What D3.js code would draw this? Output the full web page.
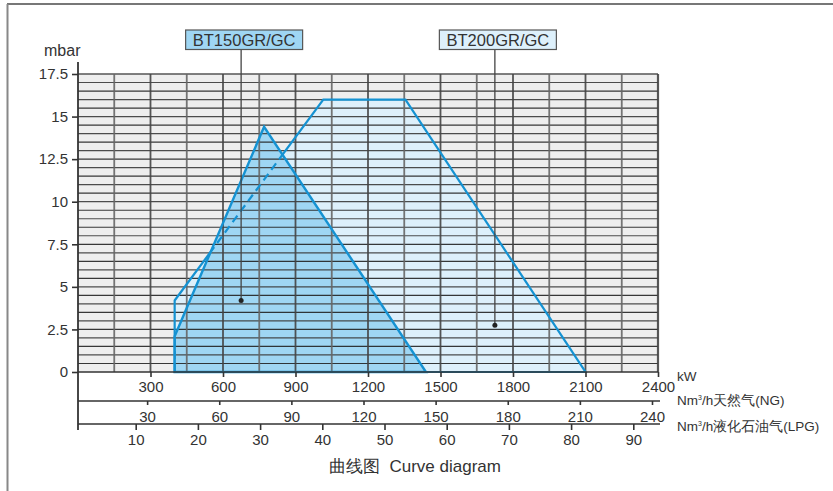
<!DOCTYPE html>
<html>
<head>
  <meta charset="utf-8">
  <script src="https://d3js.org/d3.v7.min.js"></script>
  <style>
    body { margin: 0; background: #fff; }
    svg { display: block; font-family: 'Liberation Sans', Arial, sans-serif; }
    .tick text { fill: #333; font-size: 15px; }
  </style>
</head>
<body>
<script>
  // ---- data ----
  var kwTicks = [300, 600, 900, 1200, 1500, 1800, 2100, 2400];
  var ngTicks = [30, 60, 90, 120, 150, 180, 210, 240];
  var lpgTicks = [10, 20, 30, 40, 50, 60, 70, 80, 90];
  var mbarTicks = [0, 2.5, 5, 7.5, 10, 12.5, 15, 17.5];

  var seriesNames = ["BT150GR/GC", "BT200GR/GC"];
  var bt150KW = [400, 400, 770, 1440];
  var bt150Mbar = [0, 2.1, 14.4, 0];
  var bt200KW = [400, 400, 1015, 1355, 2100];
  var bt200Mbar = [0, 4.2, 16, 16, 0];
  // where each series' label leader ends
  var labelKW = [675, 1725];
  var labelMbar = [4.2, 2.75];

  var width = 833, height = 491;
  var blue = "#1592d2";
  var fills = ["#9fd6f3", "#ddf0fb"];

  var svg = d3.select("body").append("svg")
    .attr("width", width).attr("height", height);

  // page frame
  svg.append("line").attr("x1", 7).attr("x2", width).attr("y1", 4).attr("y2", 4)
    .attr("stroke", "#777").attr("stroke-width", 2);
  svg.append("line").attr("x1", 7.5).attr("x2", 7.5).attr("y1", 4).attr("y2", height)
    .attr("stroke", "#888").attr("stroke-width", 2);

  // scales
  var x = d3.scaleLinear().domain([0, 2400]).range([78, 658]);
  var y = d3.scaleLinear().domain([0, 17.5]).range([372, 74]);
  var ng = d3.scaleLinear().domain([0, 240]).range([75, 652]);
  var lpg = d3.scaleLinear().domain([0, 90]).range([73.5, 633.3]);

  //background of the plot
  svg.append("rect")
    .attr("x", x(0)).attr("y", y(17.5))
    .attr("width", x(2400) - x(0)).attr("height", y(0) - y(17.5))
    .attr("fill", "#eeeeee");

  function pts(kw, mb) {
    return kw.map(function(k, i) { return [x(k), y(mb[i])]; });
  }
  var p150 = pts(bt150KW, bt150Mbar);
  var p200 = pts(bt200KW, bt200Mbar);
  var line = d3.line();

  // fills
  svg.append("path").attr("d", line(p200) + "Z").attr("fill", fills[1]);
  svg.append("path").attr("d", line(p150) + "Z").attr("fill", fills[0]);

  // grid
  var grid = svg.append("g");
  d3.range(0.5, 17.5, 0.5).forEach(function(v, i) {
    grid.append("line")
      .attr("x1", x(0)).attr("x2", x(2400))
      .attr("y1", y(v)).attr("y2", y(v))
      .attr("stroke", i % 2 ? "#3a3a3a" : "#222").attr("stroke-opacity", 0.9)
      .attr("stroke-width", 1.2);
  });
  grid.append("line").attr("x1", x(0)).attr("x2", x(2400))
    .attr("y1", y(17.5)).attr("y2", y(17.5)).attr("stroke", "#555").attr("stroke-width", 1.3);
  d3.range(150, 2401, 150).forEach(function(v, i) {
    grid.append("line")
      .attr("x1", x(v)).attr("x2", x(v))
      .attr("y1", y(0)).attr("y2", y(17.5))
      .attr("stroke", i % 2 ? "#444" : "#666").attr("stroke-opacity", 0.9)
      .attr("stroke-width", v == 2400 ? 2.2 : 1.8);
  });

  // outlines: BT200 is dashed where it runs under BT150
  var defs = svg.append("defs");
  defs.append("clipPath").attr("id", "in150")
    .append("path").attr("d", line(p150) + "Z");
  var mask = defs.append("mask").attr("id", "out150");
  mask.append("rect").attr("width", width).attr("height", height).attr("fill", "#fff");
  mask.append("path").attr("d", line(p150) + "Z").attr("fill", "#000");

  svg.append("path").attr("d", line(p200) + "Z")
    .attr("fill", "none").attr("stroke", blue).attr("stroke-width", 2.2)
    .attr("mask", "url(#out150)");
  svg.append("path").attr("d", line(p200) + "Z")
    .attr("fill", "none").attr("stroke", blue).attr("stroke-width", 2.2)
    .attr("stroke-dasharray", "8,5")
    .attr("clip-path", "url(#in150)");
  svg.append("path").attr("d", line(p150) + "Z")
    .attr("fill", "none").attr("stroke", blue).attr("stroke-width", 2.4);

  // axes
  var plain = function(d) { return d; };
  var yAxis = svg.append("g").attr("transform", "translate(" + x(0) + ",0)")
    .call(d3.axisLeft(y).tickValues(mbarTicks).tickSize(6).tickPadding(4).tickFormat(plain));
  var kwAxis = svg.append("g").attr("transform", "translate(0," + y(0) + ")")
    .call(d3.axisBottom(x).tickValues(kwTicks).tickSize(5).tickPadding(4).tickFormat(plain));
  var ngAxis = svg.append("g").attr("transform", "translate(0,401)")
    .call(d3.axisBottom(ng).tickValues(ngTicks).tickSize(4).tickPadding(6).tickFormat(plain));
  var lpgAxis = svg.append("g").attr("transform", "translate(0,424)")
    .call(d3.axisBottom(lpg).tickValues(lpgTicks).tickSize(6).tickPadding(4).tickFormat(plain));

  [yAxis, kwAxis, ngAxis, lpgAxis].forEach(function(a) {
    a.select(".domain").remove();
    a.selectAll(".tick line").attr("stroke", "#333").attr("stroke-width", 1.6);
    a.selectAll(".tick text").attr("font-family", "'Liberation Sans', Arial, sans-serif");
  });

  // axis lines
  svg.append("line").attr("x1", x(0)).attr("x2", x(0)).attr("y1", 62).attr("y2", 430)
    .attr("stroke", "#333").attr("stroke-width", 1.8);
  svg.append("line").attr("x1", x(0)).attr("x2", x(2400)).attr("y1", y(0)).attr("y2", y(0))
    .attr("stroke", "#333").attr("stroke-width", 1.6);
  [401, 424].forEach(function(yy) {
    svg.append("line").attr("x1", x(0)).attr("x2", x(2400) + 2).attr("y1", yy).attr("y2", yy)
      .attr("stroke", "#333").attr("stroke-width", 1.6);
  });

  // unit labels
  svg.append("text").attr("x", 44).attr("y", 56).text("mbar")
    .attr("fill", "#333").style("font-size", "16px");
  var unitG = svg.append("g").attr("fill", "#333").style("font-size", "13.5px");
  unitG.append("text").attr("x", 677).attr("y", 381).text("kW");
  var t1 = unitG.append("text").attr("x", 677).attr("y", 405);
  t1.append("tspan").text("Nm");
  t1.append("tspan").attr("dy", -5).style("font-size", "7px").text("3");
  t1.append("tspan").attr("dy", 5).text("/h天然气(NG)");
  var t2 = unitG.append("text").attr("x", 677).attr("y", 431);
  t2.append("tspan").text("Nm");
  t2.append("tspan").attr("dy", -5).style("font-size", "7px").text("3");
  t2.append("tspan").attr("dy", 5).text("/h液化石油气(LPG)");

  // series labels with leaders
  seriesNames.forEach(function(name, i) {
    var lx = x(labelKW[i]), ly = y(labelMbar[i]);
    svg.append("line").attr("x1", lx).attr("x2", lx).attr("y1", 49).attr("y2", ly)
      .attr("stroke", "#444").attr("stroke-width", 1.3);
    svg.append("circle").attr("cx", lx).attr("cy", ly).attr("r", 2.5).attr("fill", "#222");
    svg.append("rect").attr("x", lx - 55.5).attr("y", 30).attr("width", 117).attr("height", 19.5)
      .attr("fill", fills[i]).attr("stroke", "#555").attr("stroke-width", 1.2);
    svg.append("text").attr("x", lx + 3).attr("y", 45.5).attr("text-anchor", "middle")
      .attr("fill", "#333").style("font-size", "16.5px").text(name);
  });

  // caption
  svg.append("text").attr("x", 415).attr("y", 472).attr("text-anchor", "middle")
    .attr("fill", "#333").style("font-size", "17px").style("white-space", "pre")
    .text("曲线图  Curve diagram");
</script>
</body>
</html>
